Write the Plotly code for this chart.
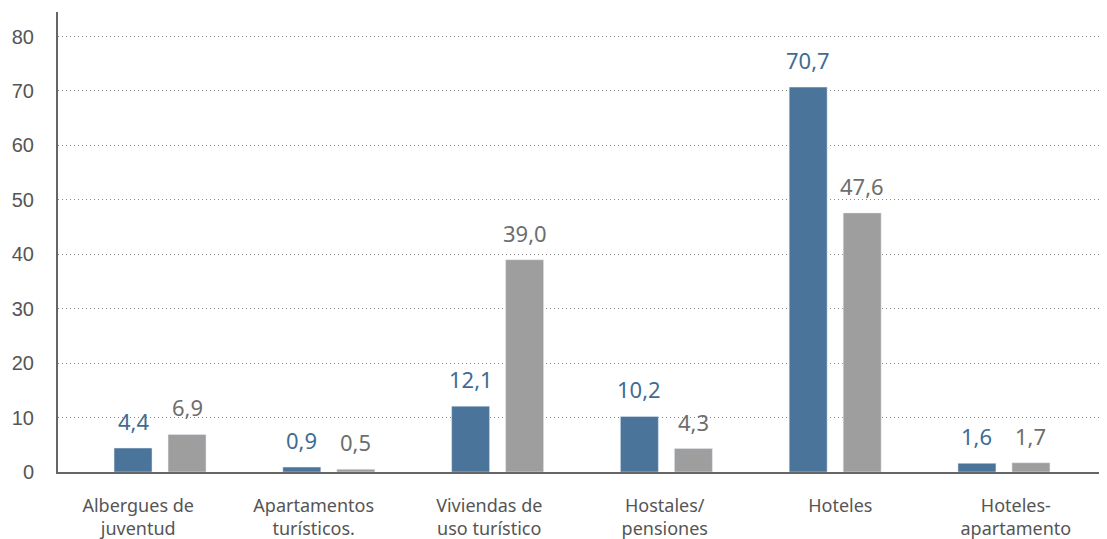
import plotly.graph_objects as go

categories = ["Albergues de<br>juventud", "Apartamentos<br>turísticos.", "Viviendas de<br>uso turístico",
              "Hostales/<br>pensiones", "Hoteles", "Hoteles-<br>apartamento"]
serie_azul = [4.4, 0.9, 12.1, 10.2, 70.7, 1.6]
serie_gris = [6.9, 0.5, 39.0, 4.3, 47.6, 1.7]
y_ticks = [0, 10, 20, 30, 40, 50, 60, 70, 80]

BLUE = "#4a7499"
BLUE_T = "#3f6c94"
GRAY = "#9e9e9e"
GRAY_T = "#6e6e6e"
FONT = "Noto Sans"

idx = list(range(len(categories)))
W = 0.225
OFF_B = -0.273
OFF_G = 0.047

fig = go.Figure()
fig.add_trace(go.Bar(x=idx, y=serie_azul, width=W, offset=OFF_B, marker_color=BLUE,
                     hoverinfo="y", showlegend=False))
fig.add_trace(go.Bar(x=idx, y=serie_gris, width=W, offset=OFF_G, marker_color=GRAY,
                     hoverinfo="y", showlegend=False))

def fmt(v):
    return f"{v:.1f}".replace(".", ",")

for i in idx:
    fig.add_annotation(x=i + OFF_B + W / 2, y=serie_azul[i], text=fmt(serie_azul[i]),
                       showarrow=False, yanchor="bottom", yshift=10,
                       font=dict(family=FONT, size=22, color=BLUE_T))
    fig.add_annotation(x=i + OFF_G + W / 2, y=serie_gris[i], text=fmt(serie_gris[i]),
                       showarrow=False, yanchor="bottom", yshift=10,
                       font=dict(family=FONT, size=22, color=GRAY_T))

tick_pos = [i * 1.04 - 0.13 for i in idx]

fig.update_layout(
    width=1099, height=531,
    margin=dict(l=50, r=0, t=4, b=67, autoexpand=False),
    paper_bgcolor="white", plot_bgcolor="white",
    barmode="overlay",
    font=dict(family=FONT, color="#555555"),
    xaxis=dict(range=[-0.605, 5.61], tickvals=tick_pos, ticktext=categories,
               showgrid=False, zeroline=False, showline=True, linecolor="#666666", linewidth=2,
               ticks="", ticklabelstandoff=16, automargin=False,
               tickfont=dict(family=FONT, size=18, color="#555555")),
    yaxis=dict(range=[0, 84.5], tickvals=y_ticks, showgrid=True, gridcolor="#888888",
               griddash="1px,3px", gridwidth=1, zeroline=False, showline=True,
               linecolor="#666666", linewidth=2, ticks="", ticklabelstandoff=18, automargin=False,
               tickfont=dict(family="Liberation Sans", size=20, color="#555555")),
)

fig.write_html("out.html")
